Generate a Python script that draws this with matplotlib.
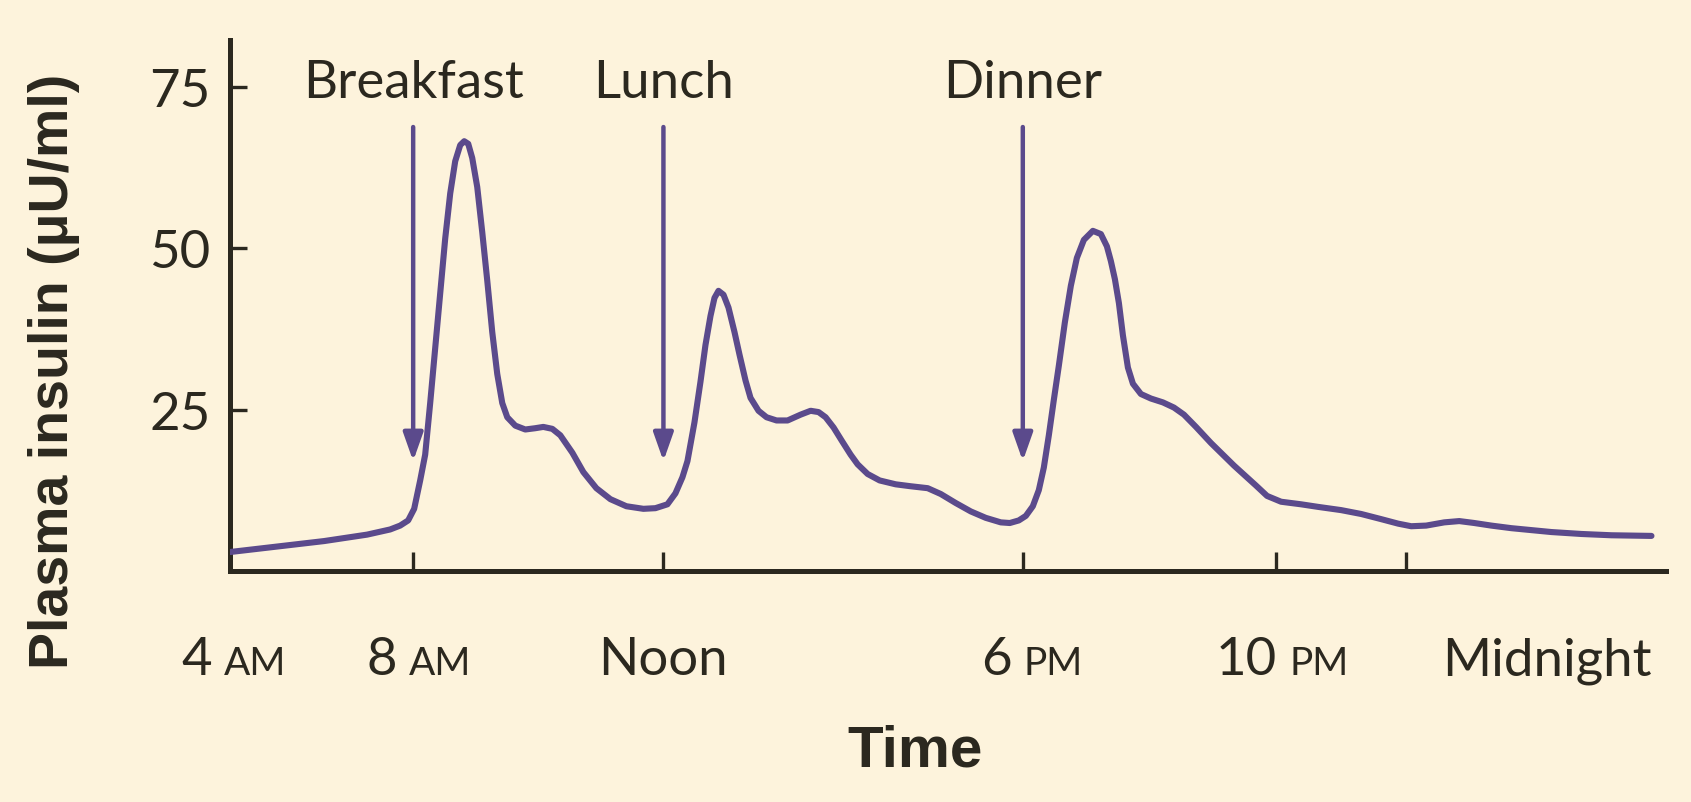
import matplotlib
matplotlib.use("Agg")
import matplotlib.pyplot as plt
import matplotlib.transforms as mtransforms
from matplotlib import font_manager

# schematic time axis (the original drawing is not to scale), units = drawing position
time_pos = [0.0, 5.0, 9.4, 13.7, 16.0, 17.0, 17.8, 18.4, 19.0, 19.5, 20.0, 20.5,
            21.0, 21.5, 22.0, 22.5, 23.0, 23.4, 23.8, 24.2, 24.7, 25.2, 25.7, 26.2,
            26.7, 27.2, 27.7, 28.5, 29.5, 30.5, 31.3, 32.2, 33.0, 34.2, 35.3, 36.6,
            38.0, 39.6, 41.3, 42.5, 43.7, 44.5, 45.2, 45.7, 46.4, 47.0, 47.5, 48.0,
            48.4, 48.8, 49.3, 49.8, 50.4, 50.9, 51.5, 52.0, 52.8, 53.6, 54.6, 55.7,
            57.0, 58.0, 58.8, 59.5, 60.3, 61.1, 62.0, 62.7, 63.7, 64.9, 66.5, 68.0,
            69.7, 71.0, 72.5, 74.0, 75.5, 77.0, 77.9, 78.8, 79.5, 80.2, 80.8, 81.3,
            81.8, 82.3, 82.8, 83.4, 84.0, 84.6, 85.3, 86.2, 87.0, 87.6, 88.0, 88.4,
            88.8, 89.2, 89.7, 90.2, 91.0, 92.0, 93.2, 94.3, 95.3, 96.5, 98.0, 100.3,
            102.5, 103.6, 105.0, 107.0, 108.7, 111.0, 113.0, 115.0, 116.7, 118.0,
            119.5, 121.3, 122.8, 124.3, 126.0, 128.0, 130.0, 132.0, 135.0, 138.0, 142.0]
insulin = [2.9, 3.8, 4.6, 5.6, 6.4, 7.0, 7.8, 9.6, 14.0, 18.0, 26.0, 34.5,
           43.0, 51.5, 58.5, 63.5, 66.0, 66.6, 66.2, 64.0, 59.5, 52.5, 45.0, 37.0,
           30.5, 26.0, 23.8, 22.5, 21.9, 22.1, 22.3, 22.0, 21.0, 18.3, 15.3, 12.8,
           11.1, 10.0, 9.6, 9.7, 10.3, 12.0, 14.5, 17.0, 23.0, 29.3, 35.0, 39.5,
           42.3, 43.4, 42.8, 40.8, 37.0, 33.5, 29.5, 26.8, 24.8, 23.8, 23.3, 23.3,
           24.2, 24.8, 24.6, 23.8, 22.2, 20.2, 18.0, 16.5, 15.0, 14.0, 13.4, 13.1,
           12.8, 11.9, 10.5, 9.2, 8.2, 7.5, 7.4, 7.8, 8.5, 10.0, 12.5, 16.0,
           21.0, 26.5, 31.8, 38.5, 44.2, 48.5, 51.3, 52.7, 52.2, 50.3, 48.0, 45.2,
           41.5, 36.5, 31.5, 29.0, 27.4, 26.7, 26.1, 25.3, 24.2, 22.3, 19.8, 16.3,
           13.2, 11.6, 10.7, 10.3, 9.9, 9.4, 8.8, 8.0, 7.3, 6.9,
           7.0, 7.5, 7.7, 7.4, 7.0, 6.6, 6.3, 6.0, 5.7, 5.5, 5.4]

meal_names = ["Breakfast", "Lunch", "Dinner"]
meal_pos = [18.3, 43.3, 79.2]

tick_pos = [18.3, 43.3, 79.2, 104.5, 117.5]
label_pos = [0.4, 18.9, 43.25, 80.1, 105.1, 131.6]
label_main = ["4", "8", "Noon", "6", "10", "Midnight"]
label_small = ["AM", "AM", "", "PM", "PM", ""]

y_ticks = [25, 50, 75]

bg = "#fdf3dc"
purple = "#5b4a8c"
dark = "#2b281f"

installed = {f.name for f in font_manager.fontManager.ttflist}
regular_font = "Lato" if "Lato" in installed else "DejaVu Sans"
bold_font = "Liberation Sans Narrow" if "Liberation Sans Narrow" in installed else "Liberation Sans"
plt.rcParams['font.family'] = [regular_font, 'DejaVu Sans']

fig = plt.figure(figsize=(16.91, 8.03), dpi=100, facecolor=bg)
ax = fig.add_axes([0.136, 0.288, 0.8495, 0.661])
ax.set_facecolor(bg)

ax.plot(time_pos, insulin, color=purple, lw=4.4, solid_capstyle='round',
        solid_joinstyle='round', zorder=3)

# meal arrows and labels
for name, x in zip(meal_names, meal_pos):
    ax.annotate("", xy=(x, 17.0), xytext=(x, 68.8),
                arrowprops=dict(arrowstyle="-|>,head_length=0.85,head_width=0.3",
                                color=purple, lw=3.2, shrinkA=0, shrinkB=0,
                                mutation_scale=20))
    ax.text(x, 75.7, name, ha='center', va='center', fontsize=38, color=dark)

ax.set_xlim(0, 143.5)
ax.set_ylim(0, 82.3)

for side in ['top', 'right']:
    ax.spines[side].set_visible(False)
for side in ['left', 'bottom']:
    ax.spines[side].set_linewidth(3.6)
    ax.spines[side].set_color(dark)

ax.set_yticks(y_ticks)
ax.set_yticklabels([str(v) for v in y_ticks])
ax.tick_params(axis='y', direction='in', length=12, width=2.4, color=dark,
               labelsize=38, labelcolor=dark, pad=14)
ax.set_xticks(tick_pos)
ax.set_xticklabels([])
ax.tick_params(axis='x', direction='in', length=14, width=2.4, color=dark)

# time labels with small-caps AM / PM
fig.canvas.draw()
renderer = fig.canvas.get_renderer()
trans = mtransforms.blended_transform_factory(ax.transData, ax.transAxes)
lab_y = -0.195
for x, main, small in zip(label_pos, label_main, label_small):
    t1 = ax.text(x, lab_y, main, transform=trans, ha='left', va='baseline',
                 fontsize=38, color=dark)
    w1 = t1.get_window_extent(renderer).width
    if small:
        t2 = ax.text(x, lab_y, small, transform=trans, ha='left', va='baseline',
                     fontsize=28, color=dark)
        w2 = t2.get_window_extent(renderer).width
        gap = 12
        total = w1 + gap + w2
        t1.set_transform(mtransforms.offset_copy(trans, fig=fig, x=-total / 2, units='dots'))
        t2.set_transform(mtransforms.offset_copy(trans, fig=fig, x=-total / 2 + w1 + gap, units='dots'))
    else:
        t1.set_transform(mtransforms.offset_copy(trans, fig=fig, x=-w1 / 2, units='dots'))

fig.text(0.541, 0.064, "Time", ha='center', va='center', fontsize=42,
         fontweight='bold', family=bold_font, color=dark)
fig.text(0.032, 0.538, "Plasma insulin (μU/ml)", ha='center', va='center',
         rotation=90, fontsize=40, fontweight='bold', family=bold_font, color=dark)

fig.savefig("out.png", dpi=100, facecolor=bg)
